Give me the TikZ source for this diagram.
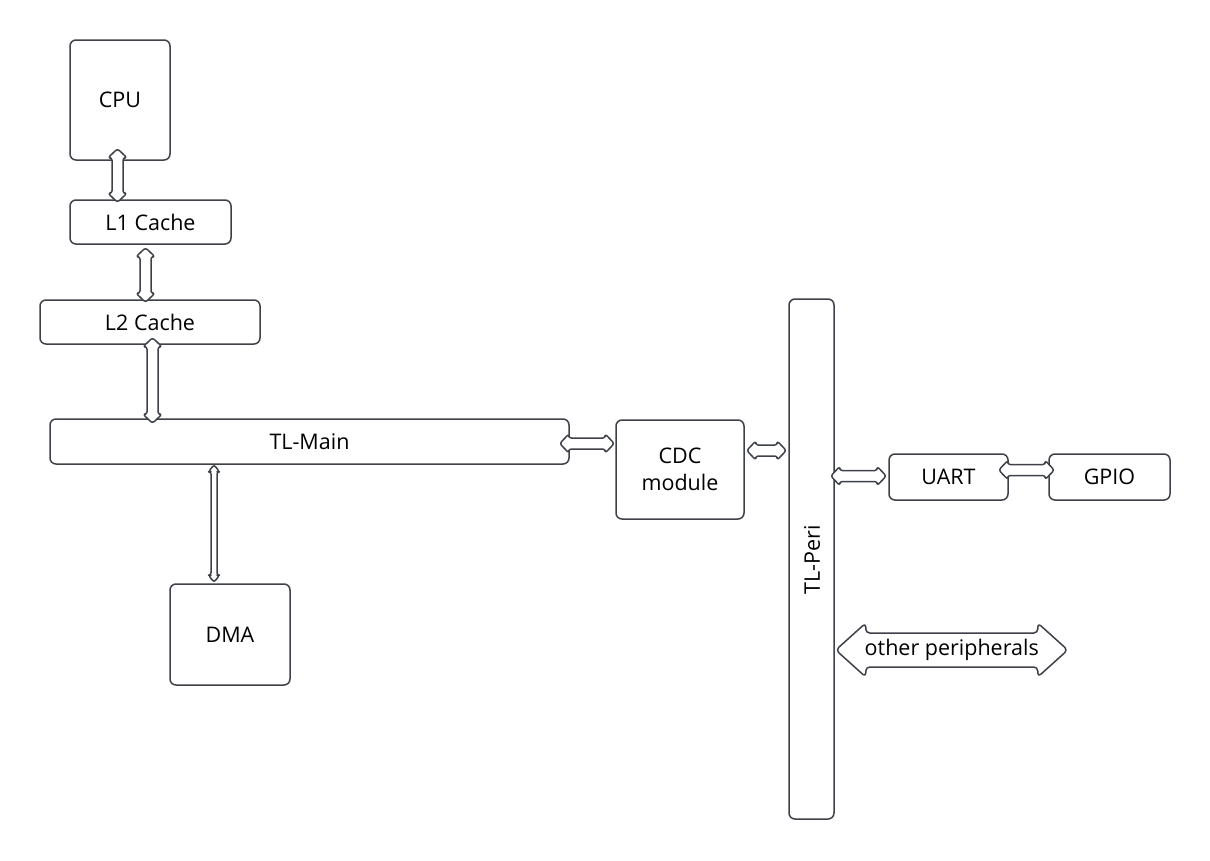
\documentclass[tikz,border=0pt]{standalone}
\usepackage{fontspec}
\setmainfont{Open Sans}
\usetikzlibrary{calc}
\definecolor{linecol}{RGB}{62,65,72}
\tikzset{
  box/.style={draw=linecol, line width=1.5pt, rounded corners=6pt, fill=white, inner sep=0pt, align=center, font=\fontsize{21.5}{27}\selectfont},
  lbl/.style={inner sep=0pt, font=\fontsize{21.5}{27}\selectfont},
  dbar/.style={draw=linecol, line width=1.5pt, fill=white, rounded corners=2.5pt, line join=round},
  bigbar/.style={dbar, rounded corners=4pt}
}
\newcommand\vdar[6][dbar]{%
  \draw[#1] let \p1=#2, \p2=#3 in
   (\x1,\y1) -- (\x1+#5pt,\y1-#6pt) -- (\x1+#4pt,\y1-#6pt) -- (\x1+#4pt,\y2+#6pt) -- (\x1+#5pt,\y2+#6pt) -- (\x1,\y2) -- (\x1-#5pt,\y2+#6pt) -- (\x1-#4pt,\y2+#6pt) -- (\x1-#4pt,\y1-#6pt) -- (\x1-#5pt,\y1-#6pt) -- cycle;}
\newcommand\hdar[6][dbar]{%
  \draw[#1] let \p1=#2, \p2=#3 in
   (\x1,\y1) -- (\x1+#6pt,\y1+#5pt) -- (\x1+#6pt,\y1+#4pt) -- (\x2-#6pt,\y1+#4pt) -- (\x2-#6pt,\y1+#5pt) -- (\x2,\y1) -- (\x2-#6pt,\y1-#5pt) -- (\x2-#6pt,\y1-#4pt) -- (\x1+#6pt,\y1-#4pt) -- (\x1+#6pt,\y1-#5pt) -- cycle;}
\begin{document}
\begin{tikzpicture}[x=1pt, y=-1pt]
\useasboundingbox (0,0) rectangle (1210,860);
% boxes
\node[box, minimum width=100, minimum height=120] (cpu) at (120,100) {CPU};
\node[box, minimum width=161, minimum height=44] (l1) at (150.5,222) {L1 Cache};
\node[box, minimum width=220, minimum height=44] (l2) at (150,322) {L2 Cache};
\node[box, minimum width=519, minimum height=45] (tlmain) at (309.5,441.5) {TL-Main};
\node[box, minimum width=128, minimum height=99] (cdc) at (680,469.5) {CDC\\module};
\node[box, minimum width=45, minimum height=520] (tlperi) at (811.5,559) {};
\node[lbl, rotate=90] (tlperitext) at (812,560) {TL-Peri};
\node[box, minimum width=119, minimum height=46] (uart) at (948.5,477) {UART};
\node[box, minimum width=121, minimum height=46] (gpio) at (1109.5,477) {GPIO};
\node[box, minimum width=120, minimum height=101] (dma) at (230,634.5) {DMA};
% connectors
\vdar{($(cpu.south)+(-2.5,-12)$)}{($(l1.north)+(0,3)$)}{5.5}{9.5}{9}
\vdar{($(l1.south)+(-5,3)$)}{($(l2.north)+(0,3)$)}{5.5}{9.5}{9}
\vdar{($(l2.south)+(2.5,-7)$)}{($(tlmain.north)+(0,5)$)}{5.5}{9.5}{9}
\vdar{($(tlmain.south -| dma.north)+(-16,0)$)}{($(dma.north)+(0,-1)$)}{3}{5.5}{7}
\hdar{($(tlmain.east)+(-10,2)$)}{($(cdc.west)+(-1,0)$)}{5.5}{9.5}{9}
\hdar{($(cdc.east)+(2,-19)$)}{($(tlperi.west)+(-2,0)$)}{5.5}{9.5}{9}
\hdar{($(tlperi.east)+(-4,-83)$)}{($(uart.west)+(-2,0)$)}{5.5}{9.5}{9}
\hdar{($(uart.east)+(-10,-7)$)}{($(gpio.west)+(6,0)$)}{5.5}{9.5}{9}
\coordinate (opstart) at ($(tlperi.east)+(1,91)$);
\coordinate (opend) at ($(tlperi.east)+(233,91)$);
\hdar[bigbar]{(opstart)}{(opend)}{17}{27}{30}
\node[lbl] (op) at ($(opstart)!0.5!(opend)$) {other peripherals};
\end{tikzpicture}
\end{document}
